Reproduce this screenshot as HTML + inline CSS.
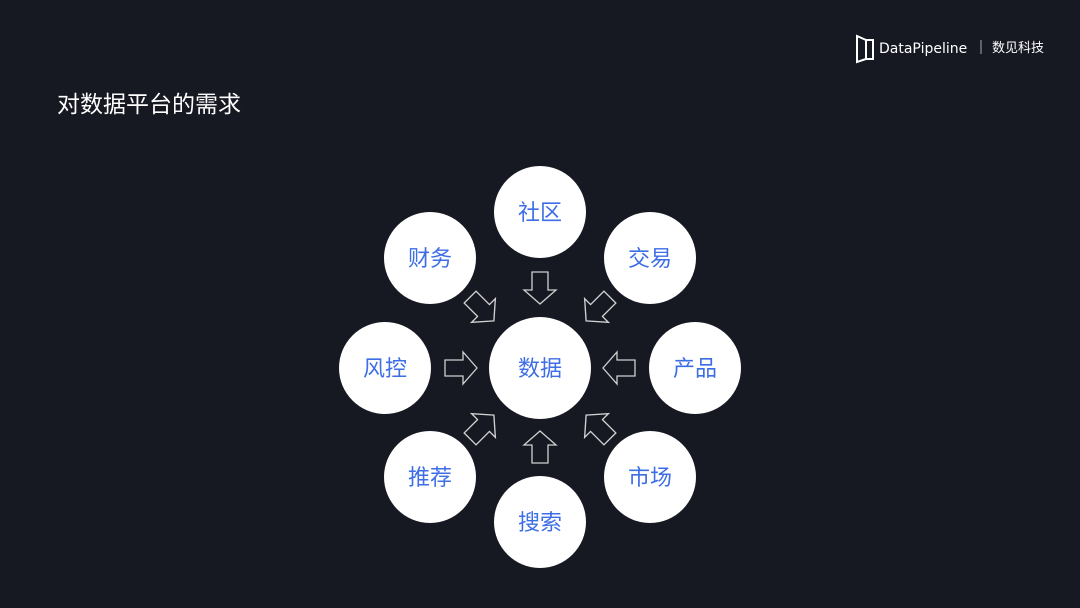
<!DOCTYPE html>
<html><head><meta charset="utf-8"><style>
body{margin:0;width:1080px;height:608px;background:#161822;overflow:hidden;font-family:"Liberation Sans","Noto Sans CJK SC",sans-serif}
</style></head><body>
<svg width="1080" height="608" xmlns="http://www.w3.org/2000/svg" style="position:absolute;left:0;top:0">
<defs>
<polygon id="ar" points="-16,-8 2,-8 2,-16 16,0 2,16 2,8 -16,8" fill="none" stroke="#d0d0d0" stroke-width="1.3" stroke-linejoin="miter"/>
</defs>
<text x="57" y="112" fill="#fff" font-size="23" font-family="Noto Sans CJK SC, sans-serif">对数据平台的需求</text>
<g transform="translate(856,35)" fill="none" stroke="#fff" stroke-width="2">
<path d="M1,1 L10,5 L10,24 L1,27 Z"/><path d="M10,5 L17,5 L17,24 L10,24"/>
</g>
<text x="879" y="53" fill="#fff" font-size="14" font-family="DejaVu Sans, sans-serif">DataPipeline</text>
<line x1="981" y1="40" x2="981" y2="54" stroke="#aaa" stroke-width="1"/>
<text x="992" y="52" fill="#fff" font-size="13" font-family="Noto Sans CJK SC, sans-serif">数见科技</text>
<g fill="#fff">
<circle cx="540" cy="368" r="51"/>
<circle cx="540" cy="212" r="46"/><circle cx="430" cy="258" r="46"/><circle cx="650" cy="258" r="46"/>
<circle cx="385" cy="368" r="46"/><circle cx="695" cy="368" r="46"/>
<circle cx="430" cy="477" r="46"/><circle cx="650" cy="477" r="46"/><circle cx="540" cy="522" r="46"/>
</g>
<g fill="#3d6ee6" font-size="22" text-anchor="middle" font-family="Noto Sans CJK SC, sans-serif">
<text x="540" y="376">数据</text>
<text x="540" y="220">社区</text><text x="430" y="266">财务</text><text x="650" y="266">交易</text>
<text x="385" y="376">风控</text><text x="695" y="376">产品</text>
<text x="430" y="485">推荐</text><text x="650" y="485">市场</text><text x="540" y="530">搜索</text>
</g>
<use href="#ar" transform="translate(540,288) rotate(90)"/>
<use href="#ar" transform="translate(540,447) rotate(-90)"/>
<use href="#ar" transform="translate(461,368)"/>
<use href="#ar" transform="translate(619,368) rotate(180)"/>
<use href="#ar" transform="translate(482,309) rotate(45) scale(1.05)"/>
<use href="#ar" transform="translate(598,309) rotate(135) scale(1.05)"/>
<use href="#ar" transform="translate(482,427) rotate(-45) scale(1.05)"/>
<use href="#ar" transform="translate(598,427) rotate(-135) scale(1.05)"/>
</svg>
</body></html>
